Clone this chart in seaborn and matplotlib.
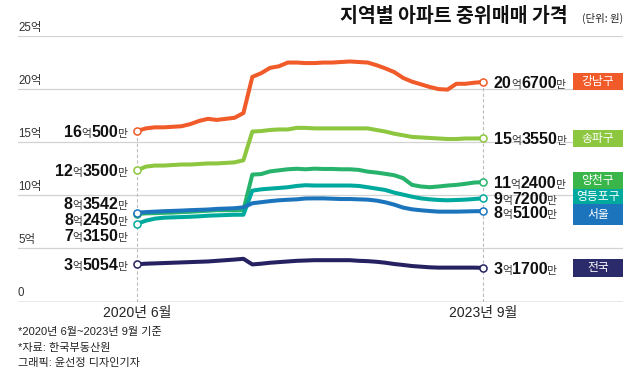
import matplotlib
matplotlib.use("Agg")
import numpy as np
import pandas as pd
import matplotlib.pyplot as plt
import matplotlib.transforms as mtransforms
from matplotlib.patches import Rectangle
import seaborn as sns

#Monthly median apartment sale price (unit: 100 million won), June 2020 - September 2023.
months = pd.date_range("2020-06-01", "2023-09-01", freq="MS")
regions = ["강남구", "송파구", "양천구", "영등포구", "서울", "전국"]

gangnam = [16.05, 16.3, 16.4, 16.4, 16.45, 16.5, 16.7, 17.0, 17.2, 17.1, 17.2, 17.3, 17.75,
           21.15, 21.5, 22.0, 22.15, 22.5, 22.5, 22.45, 22.45, 22.5, 22.5, 22.55, 22.6, 22.55,
           22.5, 22.25, 21.95, 21.6, 21.05, 20.7, 20.45, 20.2, 20.0, 19.95, 20.5, 20.5, 20.6, 20.67]
songpa = [12.35, 12.7, 12.8, 12.8, 12.85, 12.9, 12.9, 12.95, 13.0, 13.0, 13.05, 13.1, 13.3,
          16.0, 16.05, 16.15, 16.2, 16.2, 16.35, 16.35, 16.3, 16.3, 16.3, 16.3, 16.3, 16.3,
          16.3, 16.15, 16.0, 15.8, 15.65, 15.5, 15.45, 15.4, 15.35, 15.3, 15.3, 15.35, 15.35, 15.355]
yangcheon = [8.245, 8.3, 8.32, 8.35, 8.37, 8.42, 8.45, 8.5, 8.55, 8.6, 8.6, 8.6, 8.62,
             11.95, 12.0, 12.25, 12.35, 12.45, 12.5, 12.45, 12.51, 12.48, 12.48, 12.45, 12.45, 12.39,
             12.23, 12.14, 12.02, 11.89, 11.61, 10.98, 10.83, 10.76, 10.83, 10.92, 10.98, 11.08, 11.2, 11.24]
yeongdeungpo = [7.315, 7.61, 7.8, 7.89, 7.92, 7.95, 7.98, 8.02, 8.08, 8.11, 8.14, 8.17, 8.17,
                10.44, 10.56, 10.63, 10.69, 10.76, 10.88, 10.95, 10.92, 10.92, 10.92, 10.92, 10.92, 10.88,
                10.76, 10.63, 10.5, 10.25, 10.06, 9.87, 9.71, 9.62, 9.56, 9.53, 9.56, 9.59, 9.65, 9.72]
seoul = [8.3542, 8.42, 8.46, 8.5, 8.53, 8.56, 8.6, 8.63, 8.66, 8.72, 8.75, 8.78, 8.87,
         9.25, 9.35, 9.45, 9.53, 9.58, 9.62, 9.7, 9.71, 9.71, 9.68, 9.65, 9.65, 9.62,
         9.59, 9.5, 9.34, 9.12, 8.84, 8.68, 8.59, 8.52, 8.46, 8.46, 8.46, 8.48, 8.5, 8.51]
nationwide = [3.5054, 3.56, 3.59, 3.62, 3.65, 3.68, 3.71, 3.74, 3.77, 3.83, 3.89, 3.95, 4.02,
              3.49, 3.56, 3.65, 3.71, 3.77, 3.83, 3.86, 3.89, 3.89, 3.89, 3.89, 3.89, 3.83,
              3.8, 3.74, 3.65, 3.53, 3.44, 3.34, 3.28, 3.22, 3.19, 3.19, 3.19, 3.19, 3.19, 3.17]
series = [gangnam, songpa, yangcheon, yeongdeungpo, seoul, nationwide]

line_colors = ["#f15a29", "#8dc63f", "#27b36c", "#00a99d", "#1c75bc", "#262262"]
box_colors = ["#f15a29", "#8dc63f", "#39b54a", "#00a99d", "#1c75bc", "#2b2a6b"]

#Label placement (value axis units).
left_label_y = [16.05, 12.35, 7.77, 6.26, 9.27, 3.5054]
right_label_y = [20.67, 15.355, 11.24, 9.72, 8.36, 3.17]
box_bottom = [19.92, 14.55, 10.59, 9.18, 7.2, 2.31]
box_top = [21.52, 16.15, 12.19, 10.59, 9.18, 4.0]

y_grid = [5, 10, 15, 20, 25]
x_ends = ["2020년 6월", "2023년 9월"]
notes = ["*2020년 6월~2023년 9월 기준", "*자료: 한국부동산원", "그래픽: 윤선정 디자인기자"]

sns.set_theme(style="white")
plt.rcParams["font.family"] = ["Liberation Sans", "Noto Sans CJK KR", "DejaVu Sans"]

frames = []
for name, vals in zip(regions, series):
    frames.append(pd.DataFrame({"idx": np.arange(len(months)), "month": months,
                                "price": vals, "region": name}))
df = pd.concat(frames, ignore_index=True)

fig = plt.figure(figsize=(6.4, 3.76), dpi=100)
ax = fig.add_axes([18 / 640, 1 - 301.5 / 376, 605 / 640, (301.5 - 36) / 376])
ax.set_xlim(-13.41, 54.78)
ax.set_ylim(0, 25)
for s in ax.spines.values():
    s.set_visible(False)
ax.set_xticks([])
ax.set_yticks([])

for v in y_grid:
    ax.axhline(v, color="#d2d2d2", lw=0.9, zorder=1)
ax.axhline(0, color="#8c8c8c", lw=1.0, zorder=1)

last = len(months) - 1
ax.vlines([0], 0, gangnam[0], colors="#bdbdbd", linestyles=(0, (3, 2)), lw=0.8, zorder=1)
ax.vlines([last], 0, gangnam[-1], colors="#bdbdbd", linestyles=(0, (3, 2)), lw=0.8, zorder=1)

sns.lineplot(data=df, x="idx", y="price", hue="region", hue_order=regions,
             palette=dict(zip(regions, line_colors)), linewidth=2.9, legend=False,
             ax=ax, zorder=3, solid_joinstyle="round", solid_capstyle="round")
ax.set_xlabel("")
ax.set_ylabel("")

for vals, c in zip(series, line_colors):
    ax.scatter([0, last], [vals[0], vals[-1]], s=26, facecolor="white", edgecolor=c,
               linewidth=1.1, zorder=5)

renderer = fig.canvas.get_renderer()
big = dict(fontsize=11.5, fontweight="bold", color="#111111")
small = dict(fontsize=7.8, color="#333333", family=["Noto Sans CJK KR"])


def money_label(x, y, value, side):
    eok = int(value)
    man = int(round((value - eok) * 10000))
    parts = [(str(eok), big), ("억", small), (str(man), big), ("만", small)]
    texts, widths = [], []
    for s, style in parts:
        t = ax.annotate(s, xy=(x, y), xycoords="data", xytext=(0, 0),
                        textcoords="offset points", ha="left", va="baseline",
                        zorder=6, annotation_clip=False, **style)
        texts.append(t)
        widths.append(t.get_window_extent(renderer).width * 72 / fig.dpi)
    total = sum(widths) - 1.2
    start = 7.9 if side == "right" else -7.2 - total
    for t, w, (s, style) in zip(texts, widths, parts):
        t.xyann = (start - (0.4 if style is small else 0), -4.1)
        start += w - (0.4 if style is small else 0)


for i in range(len(regions)):
    money_label(0, left_label_y[i], series[i][0], "left")
    money_label(last, right_label_y[i], series[i][-1], "right")

blend = mtransforms.blended_transform_factory(ax.transAxes, ax.transData)
for name, c, b, t in zip(regions, box_colors, box_bottom, box_top):
    ax.add_patch(Rectangle((555 / 605, b), 50 / 605, t - b, transform=blend,
                           facecolor=c, edgecolor="none", zorder=4, clip_on=False))
    ax.text((555 + 25) / 605, (b + t) / 2, name, transform=blend, ha="center", va="center",
            fontsize=8.5, color="white", family=["Noto Sans CJK KR"], zorder=5)

for v in [0] + y_grid:
    ax.annotate(f"{v}억" if v else "0", xy=(0, v), xycoords=blend, xytext=(0, 6.1),
                textcoords="offset points", ha="left", va="center", fontsize=8.3,
                color="#333333", annotation_clip=False)

for xi, lab in zip([0, last], x_ends):
    ax.annotate(lab, xy=(xi, 0), xycoords="data", xytext=(0, -8),
                textcoords="offset points", ha="center", va="center", fontsize=10,
                color="#222222", annotation_clip=False)

fig.text(568 / 640, 1 - 16.5 / 376, "지역별 아파트 중위매매 가격", ha="right", va="center",
         fontsize=14, fontweight="bold", color="#111111", family=["Noto Sans CJK KR"])
fig.text(623 / 640, 1 - 18 / 376, "(단위: 원)", ha="right", va="center", fontsize=7.5,
         color="#222222", family=["Noto Sans CJK KR"])

for k, note in enumerate(notes):
    fig.text(18 / 640, 1 - (332 + 15.5 * k) / 376, note, ha="left", va="center",
             fontsize=8, color="#222222")

fig.savefig("out.png", dpi=100, facecolor="white")
